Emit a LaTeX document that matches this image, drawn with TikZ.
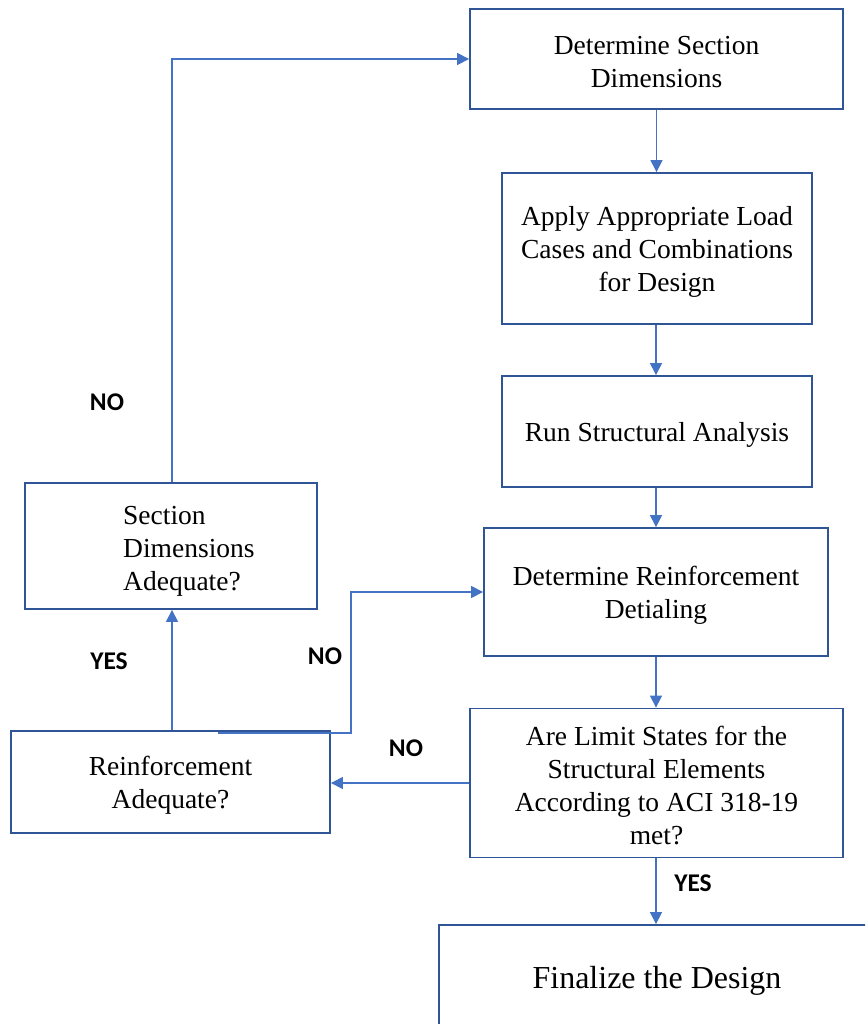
\documentclass[tikz,border=0pt]{standalone}
\usepackage{fontspec}
\setmainfont{Liberation Serif}
\newfontfamily\labelfont{Carlito}
\usetikzlibrary{arrows.meta}
\definecolor{boxblue}{HTML}{2F5597}
\definecolor{linkblue}{HTML}{4472C4}
\begin{document}
\begin{tikzpicture}[x=1pt,y=-1pt,
  box/.style={draw=boxblue,line width=1.8pt,inner sep=0pt},
  txt/.style={inner sep=0pt,align=center,font=\fontsize{27.5}{33}\selectfont},
  link/.style={draw=linkblue,line width=1.2pt,-{Triangle[length=12pt,width=12pt]}},
  lbl/.style={inner sep=0pt,font=\labelfont\bfseries\fontsize{25.5}{30}\selectfont}]
\useasboundingbox (0,0) rectangle (865,1024);
\clip (0,0) rectangle (865,1024);
\fill[white] (0,0) rectangle (865,1024);
% main column
\node[box,minimum width=373pt,minimum height=100pt] (b1) at (656.5,59) {};
\node[txt] (b1t) at ([yshift=-3pt]b1.center) {Determine Section\\Dimensions};
\node[box,minimum width=310pt,minimum height=151pt] (b2) at (657,248.5) {};
\node[txt] (b2t) at ([yshift=-3pt]b2.center) {Apply Appropriate Load\\Cases and Combinations\\for Design};
\node[box,minimum width=310pt,minimum height=111pt] (b3) at (657,431.5) {};
\node[txt] (b3t) at ([yshift=-3.5pt]b3.center) {Run Structural Analysis};
\node[box,minimum width=344pt,minimum height=128pt] (b4) at (656,592) {};
\node[txt] (b4t) at ([yshift=-3pt]b4.center) {Determine Reinforcement\\Detialing};
\node[box,minimum width=373pt,minimum height=149pt] (b5) at (656.5,783) {};
\node[txt] (b5t) at ([yshift=-3pt]b5.center) {Are Limit States for the\\Structural Elements\\According to ACI 318-19\\met?};
\node[box,minimum width=436pt,minimum height=106pt] (b6) at (657,978) {};
\node[txt,font=\fontsize{32}{38}\selectfont] (b6t) at ([yshift=-3pt]b6.center) {Finalize the Design};
% left column
\node[box,minimum width=292pt,minimum height=126pt] (b7) at (171,546) {};
\node[txt,anchor=west,align=left] (b7t) at (123,551) {Section\\Dimensions\\Adequate?};
\node[box,minimum width=319pt,minimum height=102pt] (b8) at (170.5,782) {};
\node[txt] (b8t) at ([yshift=-3pt]b8.center) {Reinforcement\\Adequate?};
% connectors
\draw[link] (b1.south) -- (b1.south |- b2.north);
\draw[link] (b2.south) ++(-1,0) coordinate (c2) -- (c2 |- b3.north);
\draw[link] (b3.south) ++(-1,0) coordinate (c3) -- (c3 |- b4.north);
\draw[link] (b4.south) -- (b4.south |- b5.north);
\draw[link] (b5.south) ++(-0.5,0) coordinate (c5) -- (c5 |- b6.north);
\draw[link] (b5.west) -- (b5.west -| b8.east);
\coordinate (r0) at (218,733);
\coordinate (r1) at (351,733);
\draw[link] (r0) -- (r1) |- (b4.west);
\draw[link] (b8.north) ++(1.5,0) coordinate (c8) -- (c8 |- b7.south);
\draw[link] (b7.north) ++(1,0) coordinate (c7) |- (b1.west);
% labels
\node[lbl] (l1) at (107,402) {NO};
\node[lbl] (l2) at (109,661) {YES};
\node[lbl] (l3) at (325,656) {NO};
\node[lbl] (l4) at (406,748) {NO};
\node[lbl] (l5) at (693,883) {YES};
\end{tikzpicture}
\end{document}
